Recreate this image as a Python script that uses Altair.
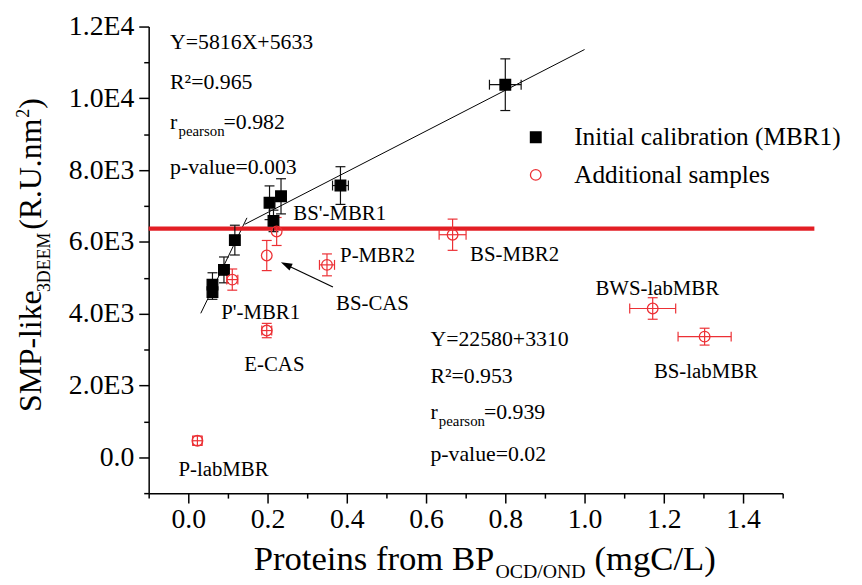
import altair as alt
import pandas as pd

FONT = "Liberation Serif"
RED_LINE = "#e31e24"
RED = "#ec3035"

groups = ["Initial calibration (MBR1)", "Additional samples"]

# Initial calibration (MBR1) - filled black squares
cal_x = [0.800, 0.384, 0.234, 0.205, 0.215, 0.1175, 0.090, 0.061, 0.061]
cal_y = [10380, 7570, 7270, 7090, 6585, 6050, 5220, 4810, 4600]
cal_xerr = [0.040, 0.020, 0, 0, 0, 0, 0, 0, 0]
cal_yerr = [720, 525, 490, 470, 300, 415, 360, 330, 200]

# Additional samples - open red circles
add_x = [0.223, 0.198, 0.111, 0.350, 0.667, 0.198, 0.023, 1.172, 1.303]
add_y = [6290, 5620, 4950, 5360, 6200, 3530, 460, 4145, 3360]
add_xerr = [0, 0, 0.014, 0.019, 0.034, 0.0125, 0.012, 0.058, 0.067]
add_yerr = [390, 420, 295, 305, 435, 200, 130, 300, 235]

# sample name labels
sample_labels = ["BS'-MBR1", "P-MBR2", "BS-MBR2", "BS-CAS", "P'-MBR1", "E-CAS",
                 "P-labMBR", "BWS-labMBR", "BS-labMBR"]
label_x = [0.265, 0.383, 0.711, 0.373, 0.083, 0.1415, -0.025, 1.0275, 1.175]
label_y = [6770, 5600, 5620, 4265, 4005, 2580, -345, 4680, 2375]

# fitted lines (as drawn)
fit_seg = ["a", "a", "b", "b"]
fit_x = [0.1425, 1.0, 0.0315, 0.148]
fit_y = [6490, 11360, 4010, 6670]

# red threshold line
thr_x = [-0.1, 1.58]
thr_y = [6370, 6370]

# arrow towards BS-CAS
arrow_x = [0.365, 0.248]
arrow_y = [4742, 5358]

# statistics blocks
stat_x = [-0.046, -0.046, -0.046, -0.046, 0.611, 0.611, 0.611, 0.611]
stat_y = [11373, 10251, 9135, 7892, 3103, 2072, 1058, -111]
stat_text = ["Y=5816X+5633", "R\u00b2=0.965", "r", "p-value=0.003",
             "Y=22580+3310", "R\u00b2=0.953", "r", "p-value=0.02"]
pearson_x = [-0.046, 0.611]
pearson_y = [9135, 1058]
pearson_val = ["=0.982", "=0.939"]

x_ticks = [round(-0.1 + 0.1 * i, 1) for i in range(17)]
y_ticks = [-1000 + 1000 * i for i in range(14)]

df = pd.DataFrame({
    "x": cal_x + add_x,
    "y": cal_y + add_y,
    "xerr": cal_xerr + add_xerr,
    "yerr": cal_yerr + add_yerr,
    "group": [groups[0]] * len(cal_x) + [groups[1]] * len(add_x),
})
lab_df = pd.DataFrame({"x": label_x, "y": label_y, "t": sample_labels})
fit_df = pd.DataFrame({"x": fit_x, "y": fit_y, "seg": fit_seg})
thr_df = pd.DataFrame({"x": thr_x, "y": thr_y})
arr_df = pd.DataFrame({"x": arrow_x, "y": arrow_y})
head_df = arr_df.iloc[[1]]
stat_df = pd.DataFrame({"x": stat_x, "y": stat_y, "t": stat_text})
pear_df = pd.DataFrame({"x": pearson_x, "y": pearson_y, "v": pearson_val, "s": ["pearson"] * 2})

xscale = alt.Scale(domain=[-0.1, 1.5], nice=False, zero=False)
yscale = alt.Scale(domain=[-1000, 12000], nice=False, zero=False)

axis_common = dict(
    title=None, grid=False, labelFont=FONT, labelFontSize=28, labelColor="black",
    tickColor="black", domainColor="black", tickWidth=1.5, domainWidth=1.5,
    labelOverlap=False, labelFlush=False,
)
xaxis = alt.Axis(
    values=x_ticks,
    labelExpr="abs(round(datum.value*10)) % 2 == 0 ? format(datum.value, '.1f') : ''",
    tickSize={"condition": {"test": "abs(round(datum.value*10)) % 2 == 0", "value": 10}, "value": 5},
    labelPadding=3,
    **axis_common,
)
yaxis = alt.Axis(
    values=y_ticks,
    labelExpr=("datum.value >= 0 && abs(round(datum.value/1000)) % 2 == 0 ? "
               "(datum.value == 0 ? '0.0' : (datum.value >= 10000 ? format(datum.value/10000, '.1f') + 'E4' "
               ": format(datum.value/1000, '.1f') + 'E3')) : ''"),
    tickSize={"condition": {"test": "abs(round(datum.value/1000)) % 2 == 0", "value": 10}, "value": 5},
    labelPadding=5,
    **axis_common,
)


def X(f):
    return alt.X(f, type="quantitative", scale=xscale, axis=xaxis)


def Y(f):
    return alt.Y(f, type="quantitative", scale=yscale, axis=yaxis)


layers = []

# fit lines
layers.append(alt.Chart(fit_df).mark_line(color="black", strokeWidth=1).encode(
    x=X("x"), y=Y("y"), detail="seg:N"))

# threshold
layers.append(alt.Chart(thr_df).mark_line(color=RED_LINE, strokeWidth=4.5).encode(
    x=X("x"), y=Y("y")))


def errbars(group, color):
    base = alt.Chart(df).transform_filter(alt.datum.group == group).transform_calculate(
        ylo="datum.y - datum.yerr", yhi="datum.y + datum.yerr",
        xlo="datum.x - datum.xerr", xhi="datum.x + datum.xerr")
    out = [
        base.mark_rule(color=color, strokeWidth=1.2).encode(x=X("x"), y=Y("ylo"), y2="yhi"),
        base.mark_tick(orient="horizontal", size=10, thickness=1.2, color=color, opacity=1).encode(
            x=X("x"), y=Y("ylo")),
        base.mark_tick(orient="horizontal", size=10, thickness=1.2, color=color, opacity=1).encode(
            x=X("x"), y=Y("yhi")),
    ]
    hb = base.transform_filter("datum.xerr > 0")
    out += [
        hb.mark_rule(color=color, strokeWidth=1.2).encode(x=X("xlo"), x2="xhi", y=Y("y")),
        hb.mark_tick(orient="vertical", size=10, thickness=1.2, color=color, opacity=1).encode(
            x=X("xlo"), y=Y("y")),
        hb.mark_tick(orient="vertical", size=10, thickness=1.2, color=color, opacity=1).encode(
            x=X("xhi"), y=Y("y")),
    ]
    return out


layers += errbars(groups[0], "#111111")
layers += errbars(groups[1], RED)

leg = alt.Legend(
    title=None, orient="none", legendX=378, legendY=99, labelFont=FONT, labelFontSize=25.5,
    labelColor="black", symbolSize=115, symbolStrokeWidth=1.3, labelOffset=26,
    rowPadding=11, padding=0, labelLimit=500,
)
layers.append(alt.Chart(df).mark_point(size=115, strokeWidth=1.3, opacity=1).encode(
    x=X("x"), y=Y("y"),
    shape=alt.Shape("group:N", scale=alt.Scale(domain=groups, range=["square", "circle"]), legend=leg),
    fill=alt.Fill("group:N", scale=alt.Scale(domain=groups, range=["#000000", "transparent"]), legend=leg),
    stroke=alt.Stroke("group:N", scale=alt.Scale(domain=groups, range=["#000000", RED]), legend=leg),
))

# arrow
layers.append(alt.Chart(arr_df).mark_line(color="black", strokeWidth=1.2).encode(x=X("x"), y=Y("y")))
layers.append(alt.Chart(head_df).mark_point(
    shape="M0,-1L0.6,0.8L-0.6,0.8Z", filled=True, color="black", size=160, angle=295, opacity=1
).encode(x=X("x"), y=Y("y")))

# sample labels
layers.append(alt.Chart(lab_df).mark_text(
    align="left", baseline="middle", font=FONT, fontSize=21, color="black"
).encode(x=X("x"), y=Y("y"), text="t:N"))

# stats
layers.append(alt.Chart(stat_df).mark_text(
    align="left", baseline="alphabetic", font=FONT, fontSize=22, color="black"
).encode(x=X("x"), y=Y("y"), text="t:N"))
layers.append(alt.Chart(pear_df).mark_text(
    align="left", baseline="alphabetic", font=FONT, fontSize=15, color="black", dx=8.5, dy=7
).encode(x=X("x"), y=Y("y"), text="s:N"))
layers.append(alt.Chart(pear_df).mark_text(
    align="left", baseline="alphabetic", font=FONT, fontSize=22, color="black", dx=54
).encode(x=X("x"), y=Y("y"), text="v:N"))


# axis titles with sub/superscripts
def piece(txt, x, y, size, dx=0, dy=0, angle=0):
    return alt.Chart(pd.DataFrame({"t": [txt]})).mark_text(
        align="left", baseline="alphabetic", font=FONT, fontSize=size, color="black",
        dx=dx, dy=dy, angle=angle
    ).encode(x=alt.value(x), y=alt.value(y), text="t:N")


xt_x, xt_y = 106, 549
layers += [
    piece("Proteins from BP", xt_x, xt_y, 35),
    piece("OCD/OND", xt_x, xt_y, 20, dx=244, dy=8),
    piece("(mgC/L)", xt_x, xt_y, 35, dx=344),
]
yt_x, yt_y = -109, 389
layers += [
    piece("SMP-like", yt_x, yt_y, 32, angle=270),
    piece("3DEEM", yt_x, yt_y, 18, dx=121, dy=9, angle=270),
    piece("(R.U.nm", yt_x, yt_y, 32, dx=184, angle=270),
    piece("2", yt_x, yt_y, 18, dx=297, dy=-12, angle=270),
    piece(")", yt_x, yt_y, 32, dx=306, angle=270),
]

chart = alt.layer(*layers).properties(
    width=640, height=471,
    autosize=alt.AutoSizeParams(type="none"),
    padding={"left": 142, "top": 16, "right": 72, "bottom": 90},
).configure_view(stroke=None)

chart.save("out.html", embed_options={"renderer": "svg", "actions": False})
